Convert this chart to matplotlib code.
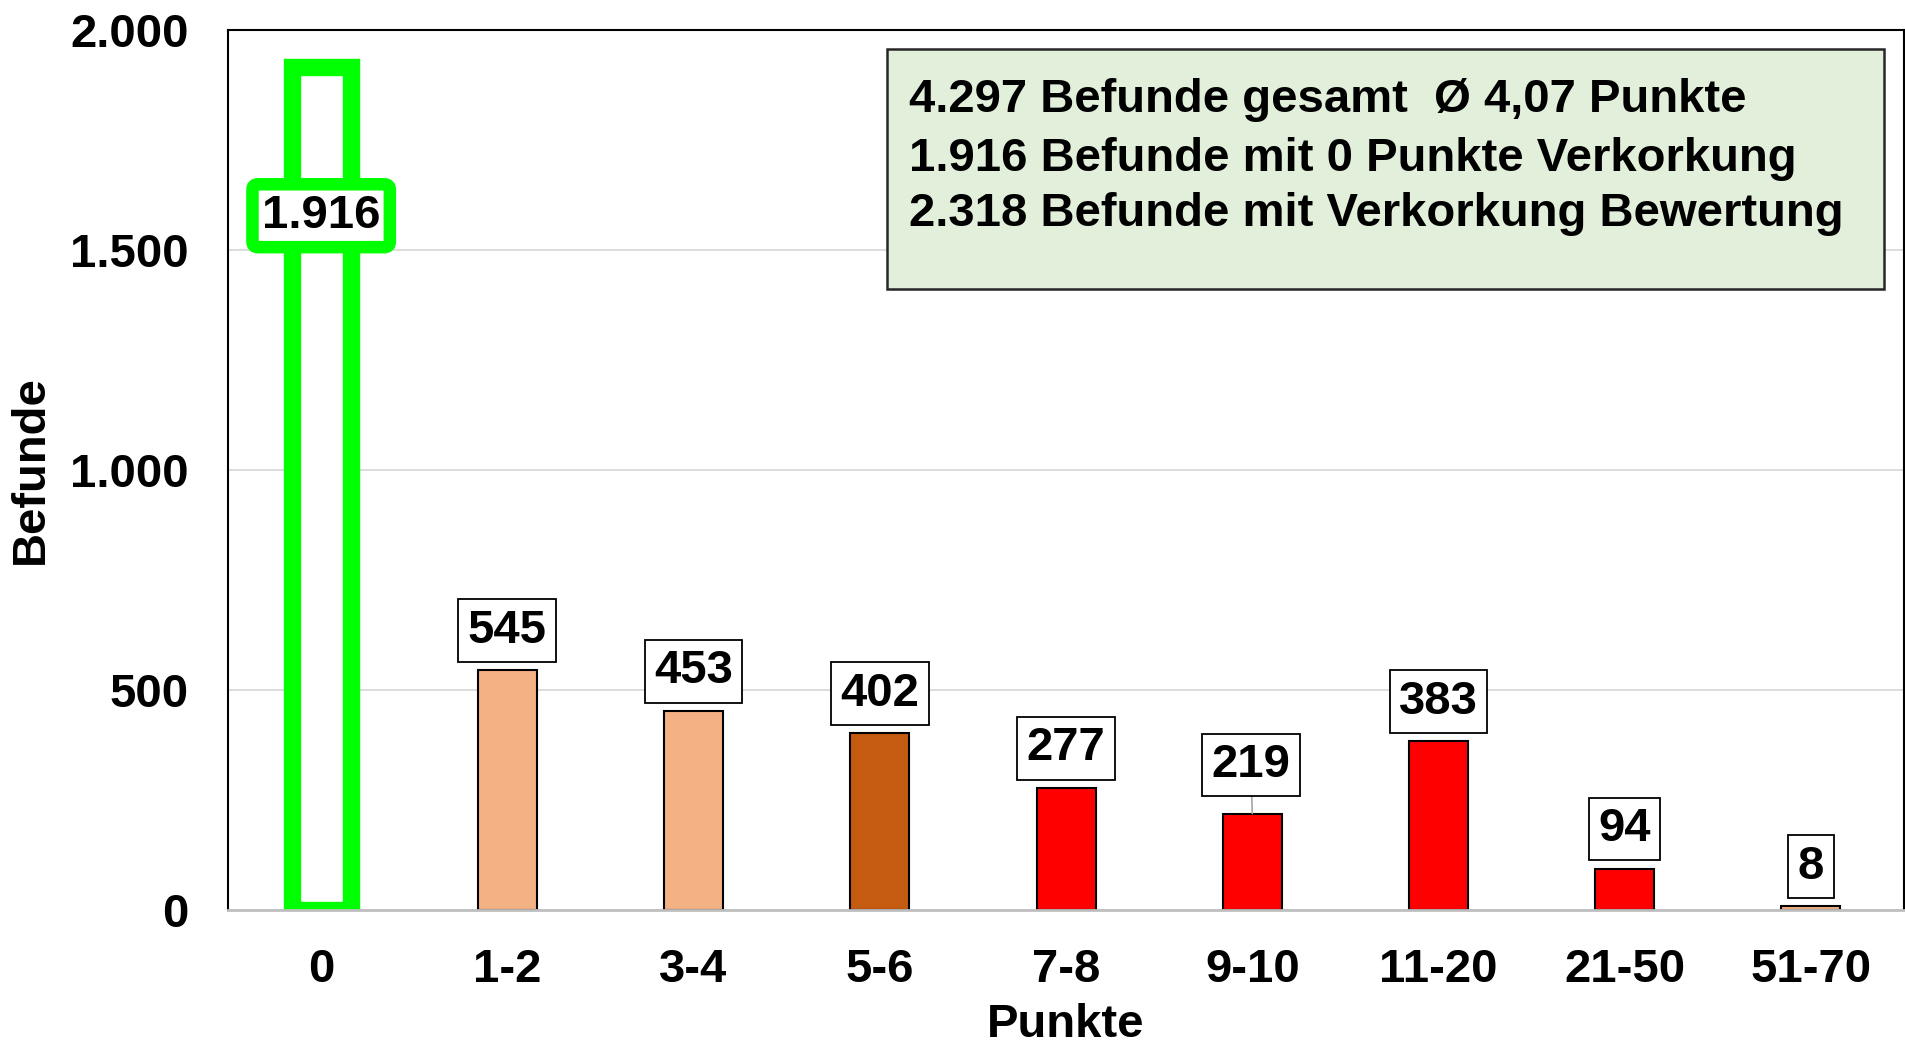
import matplotlib
matplotlib.use("Agg")
import matplotlib.pyplot as plt
from matplotlib import font_manager
from matplotlib.patches import Rectangle

categories = ["0", "1-2", "3-4", "5-6", "7-8", "9-10", "11-20", "21-50", "51-70"]
values = [1916, 545, 453, 402, 277, 219, 383, 94, 8]
labels = ["1.916", "545", "453", "402", "277", "219", "383", "94", "8"]
colors = ["#FFFFFF", "#F4B183", "#F4B183", "#C55A11", "#FF0000", "#FF0000", "#FF0000", "#FF0000", "#F4B183"]
yticks = [0, 500, 1000, 1500, 2000]
ytick_labels = ["0", "500", "1.000", "1.500", "2.000"]
info_lines = ["4.297 Befunde gesamt  \u00d8 4,07 Punkte",
              "1.916 Befunde mit 0 Punkte Verkorkung",
              "2.318 Befunde mit Verkorkung Bewertung"]

names = {f.name for f in font_manager.fontManager.ttflist}
main_font = "Liberation Sans" if "Liberation Sans" in names else "DejaVu Sans"
narrow_font = "Liberation Sans Narrow" if "Liberation Sans Narrow" in names else main_font
plt.rcParams["font.family"] = [main_font, "DejaVu Sans"]
plt.rcParams["font.weight"] = "bold"

FS = 34

fig = plt.figure(figsize=(19.05, 10.47), dpi=100)
ax = fig.add_axes([0.1197, 0.1309, 0.8798, 0.8404])

x = list(range(len(categories)))
bars = ax.bar(x, values, width=0.317, color=colors, edgecolor="black", linewidth=1.5, zorder=3)
# highlighted first bar
bars[0].set_edgecolor("#00FF00")
bars[0].set_linewidth(12.5)

ax.set_xlim(-0.5, len(categories) - 0.5)
ax.set_ylim(0, 2000)
ax.set_yticks(yticks)
ax.set_yticklabels(ytick_labels)
ax.set_xticks(x)
ax.set_xticklabels(categories)
ax.tick_params(axis="y", length=0, pad=28.5, labelsize=FS)
ax.tick_params(axis="x", length=0, pad=27.5, labelsize=FS)
for t in ax.get_xticklabels() + ax.get_yticklabels():
    t.set_fontweight("bold")

ax.yaxis.grid(True, color="#D9D9D9", linewidth=1.3, zorder=0)
ax.set_axisbelow(True)
for s in ["left", "top", "right"]:
    ax.spines[s].set_color("black")
    ax.spines[s].set_linewidth(1.5)
ax.spines["bottom"].set_color("#BFBFBF")
ax.spines["bottom"].set_linewidth(2)
ax.spines["bottom"].set_zorder(4)

ax.set_ylabel("Befunde", fontsize=FS, fontweight="bold", labelpad=12)
ax.set_xlabel("Punkte", fontsize=FS, fontweight="bold", labelpad=8)

# value labels
for i, (v, lab) in enumerate(zip(values, labels)):
    if i == 0:
        ax.annotate(lab, xy=(i, 1578), ha="center", va="center", fontsize=FS, fontweight="bold", zorder=6,
                    bbox=dict(boxstyle="round,pad=0.2,rounding_size=0.12", fc="white", ec="#00FF00", lw=9))
        continue
    off = 35 if lab == "219" else 28.5
    arrow = dict(arrowstyle="-", color="#A6A6A6", lw=1.2, shrinkA=0, shrinkB=0) if lab == "219" else None
    ax.annotate(lab, xy=(i, v), xytext=(-1 if lab == "219" else 0, off), textcoords="offset points",
                ha="center", va="center", fontsize=FS, fontweight="bold", zorder=6,
                arrowprops=arrow,
                bbox=dict(boxstyle="square,pad=0.2", fc="white", ec="black", lw=1.3))

# info box
ax.add_patch(Rectangle((0.3932, 0.7057), 0.5948, 0.2727, transform=ax.transAxes,
                       facecolor="#E2EFDA", edgecolor="#262626", linewidth=1.8, zorder=5))
ys = [0.921, 0.853, 0.791]
texts = []
for yy, line in zip(ys, info_lines):
    texts.append(ax.text(0.4063, yy, line, transform=ax.transAxes, ha="left", va="center",
                         fontsize=30, fontweight="bold", family=[narrow_font, "DejaVu Sans"], zorder=6))
# fit widest line to the measured width
fig.canvas.draw()
r = fig.canvas.get_renderer()
w = texts[2].get_window_extent(r).width
size = 30 * 935 / w
for t in texts:
    t.set_fontsize(size)

fig.savefig("out.png", dpi=100)
